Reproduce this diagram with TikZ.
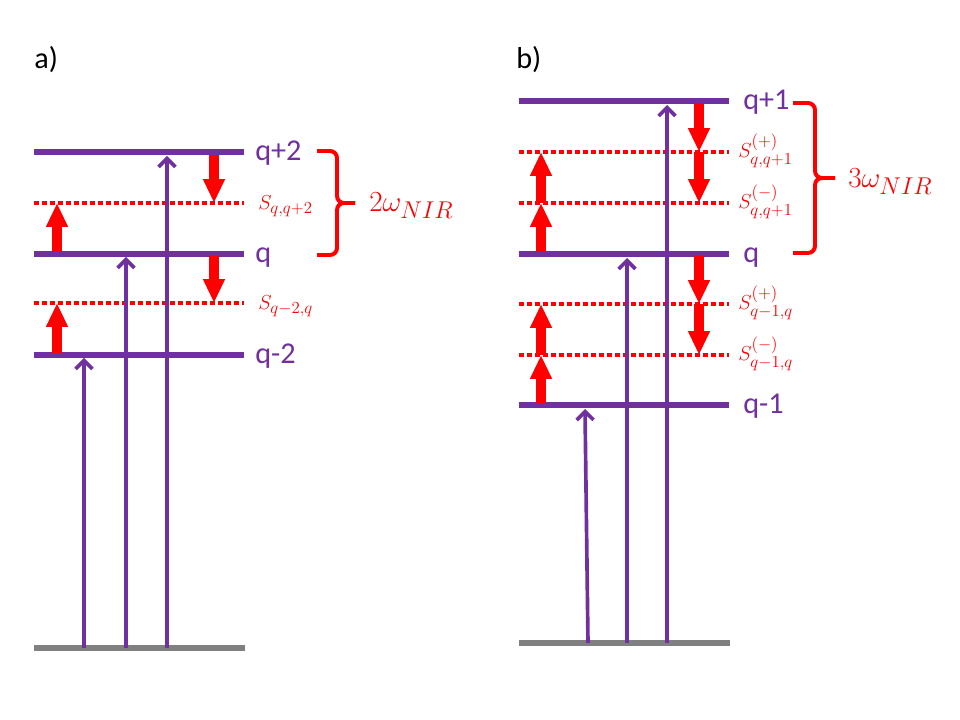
\documentclass[tikz,border=0pt]{standalone}
\usepackage{fontspec}
\setmainfont{Carlito}
\usepackage{xcolor}
\usetikzlibrary{arrows.meta, positioning, calc}
\definecolor{levelpurple}{HTML}{7030A0}
\definecolor{groundgray}{HTML}{808080}
\definecolor{nirred}{HTML}{FF0000}
\DeclareMathSizes{15}{15}{11.5}{9}
\DeclareMathSizes{22}{22}{17}{13}
\tikzstyle{level} = [line width=3.8pt, draw=levelpurple]
\tikzstyle{ground} = [line width=4.2pt, draw=groundgray]
\tikzstyle{virtual} = [line width=2.6pt, draw=nirred, dash pattern=on 3.4pt off 2.3pt]
\tikzstyle{xuv} = [line width=2.6pt, draw=levelpurple, -{Straight Barb[length=6pt,width=12pt]}]
\tikzstyle{nir} = [line width=7.1pt, draw=nirred, -{Triangle[length=17pt,width=14.5pt]}]
\tikzstyle{lvllabel} = [anchor=base west, inner sep=0pt, text=levelpurple, font=\fontsize{21.5}{24}\selectfont]
\tikzstyle{sblabel} = [anchor=base west, inner sep=0pt, text=nirred, font=\fontsize{15}{17}\selectfont]
\tikzstyle{panel} = [anchor=west, inner sep=0pt, font=\fontsize{21.5}{24}\selectfont]
\tikzstyle{brace} = [line width=2.8pt, draw=nirred, rounded corners=5pt]
\tikzstyle{omega} = [anchor=base west, inner sep=0pt, text=nirred, font=\fontsize{22}{24}\selectfont]

\begin{document}
\begin{tikzpicture}[x=0.025cm, y=-0.025cm]
\useasboundingbox (0,0) rectangle (960,720);

% a) levels q-2, q, q+2
\node (panela) [panel] at (34,60) {a)};
\draw [ground] (34,648) coordinate (ag) -- (245,648) coordinate (age);
\draw [virtual] (34,203) coordinate (asup) -- (244,203) coordinate (asupe);
\draw [virtual] (34,303) coordinate (asdn) -- (244,303) coordinate (asdne);
\draw [level] (34,152) coordinate (aqp) -- (244,152) coordinate (aqpe);
\draw [level] (34,254) coordinate (aq) -- (244,254) coordinate (aqe);
\draw [level] (34,355) coordinate (aqm) -- (244,355) coordinate (aqme);

\draw [xuv] (84,648) -- (84,358);
\draw [xuv] (126,648) -- (126,257);
\draw [xuv] (167,648) -- (167,156);

\draw [nir] (57,353) -- (57,303);
\draw [nir] (57,252) -- (57,203);
\draw [nir] (214,155) -- (214,203);
\draw [nir] (214,256) -- (214,303);

\node (laqp) [lvllabel] at (255,161) {q+2};
\node (laq) [lvllabel] at (255,263) {q};
\node (laqm) [lvllabel] at (255,364) {q-2};
\node (lasup) [sblabel] at (258,210) {$S_{q,q+2}$};
\node (lasdn) [sblabel] at (258,310) {$S_{q-2,q}$};

\coordinate (atip) at (355,203);
\draw [brace] (317,151) -- (337,151) -- (337,203) -- (atip);
\draw [brace] (317,255) -- (337,255) -- (337,203) -- (atip);
\node (aomega) [omega] at (369,212) {$2\omega_{NIR}$};

% b) levels q-1, q, q+1
\node (panelb) [panel] at (516,60) {b)};
\draw [ground] (519,643) coordinate (bg) -- (730,643) coordinate (bge);
\draw [virtual] (519,152) coordinate (bsup1) -- (729,152);
\draw [virtual] (519,203) coordinate (bsup0) -- (729,203);
\draw [virtual] (519,304) coordinate (bsdn1) -- (729,304);
\draw [virtual] (519,355) coordinate (bsdn0) -- (729,355);
\draw [level] (519,101) coordinate (bqp) -- (729,101) coordinate (bqpe);
\draw [level] (519,254) coordinate (bq) -- (729,254) coordinate (bqe);
\draw [level] (519,405) coordinate (bqm) -- (729,405) coordinate (bqme);

\draw [xuv] (588,643) -- (585,409);
\draw [xuv] (627,643) -- (627,258);
\draw [xuv] (667,643) -- (667,105);

\draw [nir] (541,403) -- (541,355);
\draw [nir] (541,355) -- (541,304);
\draw [nir] (541,252) -- (541,203);
\draw [nir] (541,203) -- (541,152);
\draw [nir] (699,103) -- (699,152);
\draw [nir] (699,152) -- (699,203);
\draw [nir] (699,256) -- (699,304);
\draw [nir] (699,304) -- (699,355);

\node (lbqp) [lvllabel] at (743,110) {q+1};
\node (lbq) [lvllabel] at (743,263) {q};
\node (lbqm) [lvllabel] at (743,414) {q-1};
\node (lbsup1) [sblabel] at (738,158) {$S^{(+)}_{q,q+1}$};
\node (lbsup0) [sblabel] at (738,209) {$S^{(-)}_{q,q+1}$};
\node (lbsdn1) [sblabel] at (738,310) {$S^{(+)}_{q-1,q}$};
\node (lbsdn0) [sblabel] at (738,361) {$S^{(-)}_{q-1,q}$};

\coordinate (btip) at (835,178);
\draw [brace] (793,103) -- (815,103) -- (815,178) -- (btip);
\draw [brace] (793,253) -- (815,253) -- (815,178) -- (btip);
\node (bomega) [omega] at (848,188) {$3\omega_{NIR}$};

\end{tikzpicture}
\end{document}
